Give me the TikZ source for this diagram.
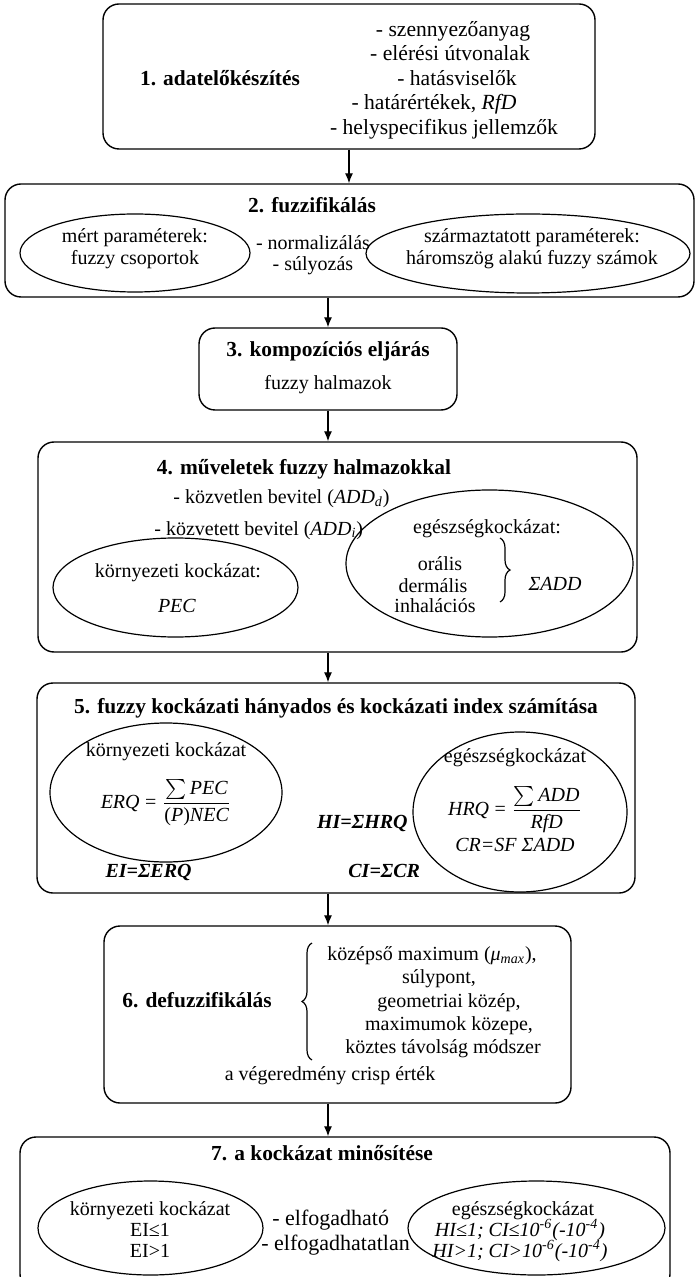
\documentclass[tikz,border=0pt]{standalone}
\usepackage{fontspec}
\setmainfont{Liberation Serif}
\usetikzlibrary{shapes.geometric,fit,arrows.meta,decorations.pathreplacing}
\tikzset{
  box/.style={draw, rounded corners=8pt, inner sep=0pt, line width=0.7pt},
  oval/.style={draw, ellipse, inner sep=0pt, line width=0.6pt},
  txt/.style={anchor=base, inner sep=0pt},
  head/.style={txt, font=\fontsize{10.7}{12.8}\selectfont\bfseries},
  flow/.style={-{Latex[length=5pt,width=4pt]}, line width=0.6pt},
  curly/.style={decorate, decoration={brace, amplitude=5pt}, line width=0.6pt}
}
\begin{document}
\begin{tikzpicture}[x=0.5pt,y=-0.5pt]
  \useasboundingbox (0,0) rectangle (697,1277);
  % 1
  \node[box, fit={(103,4) (595,149)}] (prep) {};
  \node[head] (prep-t) at (220,86) {1. adatelőkészítés};
  \foreach \x/\y/\t [count=\i] in {453/37/{- szennyezőanyag}, 450/61/{- elérési útvonalak},
      457/86/{- hatásviselők}, 434/110/{- határértékek, \textit{RfD}}, 444/135/{- helyspecifikus jellemzők}}
    \node[txt, font=\fontsize{10.8}{13}\selectfont] (prep-\i) at (\x,\y) {\t};
  % 2
  \node[box, fit={(5,184) (694,297)}] (fuzz) {};
  \node[head] (fuzz-t) at (312,213) {2. fuzzifikálás};
  \node[oval, minimum width=115pt, minimum height=39pt] (meas) at (135,253) {};
  \node[txt] (meas-1) at (135,243) {mért paraméterek:};
  \node[txt] (meas-2) at (135,265) {fuzzy csoportok};
  \node[txt] (norm-1) at (313,250) {- normalizálás};
  \node[txt] (norm-2) at (313,271) {- súlyozás};
  \node[oval, minimum width=162pt, minimum height=39.5pt] (deriv) at (528,253.5) {};
  \node[txt] (deriv-1) at (532,243) {származtatott paraméterek:};
  \node[txt] (deriv-2) at (532,265) {háromszög alakú fuzzy számok};
  % 3
  \node[box, fit={(199,328) (457,410)}] (comp) {};
  \node[head] (comp-t) at (328,357) {3. kompozíciós eljárás};
  \node[txt] (comp-1) at (328,390) {fuzzy halmazok};
  % 4
  \node[box, fit={(38,442) (637,652)}] (oper) {};
  \node[head] (oper-t) at (304,475) {4. műveletek fuzzy halmazokkal};
  \node[txt, anchor=base west] (oper-1) at (173,503) {- közvetlen bevitel (\textit{ADD\textsubscript{d}})};
  \node[txt, anchor=base west] (oper-2) at (154,535) {- közvetett bevitel (\textit{ADD\textsubscript{i}})};
  \node[oval, minimum width=122.5pt, minimum height=49.5pt] (env4) at (175.5,587.5) {};
  \node[txt] (env4-1) at (178,577) {környezeti kockázat:};
  \node[txt] (env4-2) at (177,612) {\textit{PEC}};
  \node[oval, minimum width=143.5pt, minimum height=73.5pt] (hlth4) at (489.5,563.5) {};
  \node[txt] (hlth4-1) at (487,533) {egészségkockázat:};
  \foreach \x/\y/\t [count=\i] in {440/570/orális, 433/592/dermális, 435/612/inhalációs}
    \node[txt] (route-\i) at (\x,\y) {\t};
  \draw[curly] (500,538) -- (500,602);
  \node[txt] (sum4) at (555,590) {\textit{ΣADD}};
  % 5
  \node[box, fit={(37,683) (635,893)}] (calc) {};
  \node[head] (calc-t) at (336,713) {5. fuzzy kockázati hányados és kockázati index számítása};
  \node[oval, minimum width=116pt, minimum height=69.5pt] (env5) at (166,792.5) {};
  \node[txt] (env5-1) at (166,756) {környezeti kockázat};
  \node[txt] (env5-2) at (166,808) {$\displaystyle\textit{ERQ}\mathrel{\textrm{=}}\frac{\sum\textit{PEC}}{\textrm{(}\textit{P}\textrm{)}\textit{NEC}}$};
  \node[oval, minimum width=107pt, minimum height=80pt] (hlth5) at (520,812) {};
  \node[txt] (hlth5-1) at (515,762) {egészségkockázat};
  \node[txt] (hlth5-2) at (515,815) {$\displaystyle\textit{HRQ}\mathrel{\textrm{=}}\frac{\sum\textit{ADD}}{\textit{RfD}}$};
  \node[txt] (hlth5-3) at (515,851) {\textit{CR=SF ΣADD}};
  \node[txt, anchor=base east, font=\bfseries\itshape] (hi) at (408,828) {HI=ΣHRQ};
  \node[txt, anchor=base east, font=\bfseries\itshape] (ei) at (192,877) {EI=ΣERQ};
  \node[txt, anchor=base west, font=\bfseries\itshape] (ci) at (348,877) {CI=ΣCR};
  % 6
  \node[box, fit={(104,926) (571,1103)}] (defz) {};
  \node[head, anchor=base east] (defz-t) at (272,1007) {6. defuzzifikálás};
  \draw[curly] (312,1060) -- (312,943);
  \foreach \x/\y/\t [count=\i] in {432/960/{középső maximum (\textit{μ\textsubscript{max}}),}, 439/983/{súlypont,},
      449/1007/{geometriai közép,}, 449/1030/{maximumok közepe,}, 443/1053/{köztes távolság módszer}}
    \node[txt] (meth-\i) at (\x,\y) {\t};
  \node[txt] (crisp) at (330,1080) {a végeredmény crisp érték};
  % 7
  \node[box, fit={(20,1137) (670,1290)}] (eval) {};
  \node[head] (eval-t) at (322,1160) {7. a kockázat minősítése};
  \node[oval, minimum width=112.5pt, minimum height=47pt] (env7) at (150.5,1228) {};
  \foreach \t [count=\i] in {környezeti kockázat, EI≤1, EI>1}
    \node[txt] (env7-\i) at (150,1194+21*\i) {\t};
  \node[txt, anchor=base west, font=\fontsize{11}{13}\selectfont] (acc-1) at (272,1225) {- elfogadható};
  \node[txt, anchor=base west, font=\fontsize{11}{13}\selectfont] (acc-2) at (261,1250) {- elfogadhatatlan};
  \node[oval, minimum width=128.5pt, minimum height=47pt] (hlth7) at (536.5,1228) {};
  \node[txt] (hlth7-1) at (523,1215) {egészségkockázat};
  \node[txt] (hlth7-2) at (520,1236) {\textit{HI≤1; CI≤10\textsuperscript{-6}(-10\textsuperscript{-4})}};
  \node[txt] (hlth7-3) at (520,1257) {\textit{HI>1; CI>10\textsuperscript{-6}(-10\textsuperscript{-4})}};
  % arrows
  \draw[flow] (prep.south) -- (fuzz.north -| prep.south);
  \draw[flow] (fuzz.south -| comp.north) -- (comp.north);
  \draw[flow] (comp.south) -- (oper.north -| comp.south);
  \draw[flow] (oper.south -| comp.south) -- (calc.north -| comp.south);
  \draw[flow] (calc.south -| comp.south) -- (defz.north -| comp.south);
  \draw[flow] (defz.south -| comp.south) -- (eval.north -| comp.south);
\end{tikzpicture}
\end{document}
